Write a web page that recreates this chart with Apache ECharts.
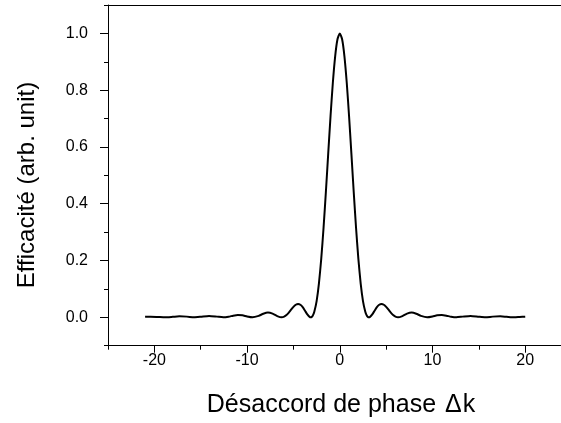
<!DOCTYPE html>
<html>
<head>
<meta charset="utf-8">
<script src="https://cdn.jsdelivr.net/npm/echarts@6/dist/echarts.min.js"></script>
<style>
html,body{margin:0;padding:0;background:#fff;}
#c{width:561px;height:423px;}
</style>
</head>
<body>
<div id="c"></div>
<script>
// Phase mismatch (x) and efficiency (y)
var deltaK = [
  -21, -20.4, -19.6, -18.85, -18, -17.3, -16.5, -15.71, -15, -14.1, -13.25, -12.57,
  -12, -11.5, -11, -10.5, -10, -9.42, -8.75, -8.25, -7.75, -7.25, -6.75, -6.28,
  -6, -5.75, -5.5, -5.25, -5, -4.75, -4.5, -4.25, -4, -3.75, -3.5, -3.25, -3.14,
  -3, -2.9, -2.75, -2.5, -2.25, -2, -1.75, -1.5, -1.25, -1, -0.75, -0.5, -0.25,
  0,
  0.25, 0.5, 0.75, 1, 1.25, 1.5, 1.75, 2, 2.25, 2.5, 2.75, 2.9, 3,
  3.14, 3.25, 3.5, 3.75, 4, 4.25, 4.5, 4.75, 5, 5.25, 5.5, 5.75, 6,
  6.28, 6.75, 7.25, 7.75, 8.25, 8.75, 9.42, 10, 10.5, 11, 11.5, 12,
  12.57, 13.25, 14.1, 15, 15.71, 16.5, 17.3, 18, 18.85, 19.4, 20
];
var efficiency = [
  0.0016, 0.0024, 0.0012, 0, 0.0017, 0.0033, 0.0024, 0, 0.0019, 0.0050, 0.0024, 0,
  0.0020, 0.0058, 0.0083, 0.0070, 0.0030, 0, 0.0051, 0.0125, 0.0165, 0.0129, 0.0044, 0,
  0.0022, 0.0078, 0.0165, 0.0268, 0.0368, 0.0443, 0.0472, 0.0443, 0.0358, 0.0232, 0.0100, 0.0011, 0,
  0.0022, 0.0068, 0.0193, 0.0573, 0.1196, 0.2067, 0.3162, 0.4422, 0.5764, 0.7081, 0.8261, 0.9194, 0.9793,
  1.0,
  0.9793, 0.9194, 0.8261, 0.7081, 0.5764, 0.4422, 0.3162, 0.2067, 0.1196, 0.0573, 0.0193, 0.0068, 0.0022,
  0, 0.0011, 0.0100, 0.0232, 0.0358, 0.0443, 0.0472, 0.0443, 0.0368, 0.0268, 0.0165, 0.0078, 0.0022,
  0, 0.0044, 0.0129, 0.0165, 0.0125, 0.0051, 0, 0.0030, 0.0070, 0.0083, 0.0058, 0.0020,
  0, 0.0024, 0.0050, 0.0019, 0, 0.0024, 0.0033, 0.0017, 0, 0.0012, 0.0021
];
var xMajorTicks = [-20, -10, 0, 10, 20];
var xMinorTicks = [-25, -15, -5, 5, 15, 25];
var yMajorTicks = [0, 0.2, 0.4, 0.6, 0.8, 1.0];
var yMinorTicks = [-0.1, 0.1, 0.3, 0.5, 0.7, 0.9, 1.1];
var xTitleMain = 'Désaccord de phase ';
var xTitleDelta = 'Δ';
var xTitleK = 'k';
var yTitle = 'Efficacité (arb. unit)';

var points = deltaK.map(function (x, i) { return [x, efficiency[i]]; });
var FONT = 'Liberation Sans, Arial, sans-serif';
var lineStyle = { color: '#000', width: 1 };

var chart = echarts.init(document.getElementById('c'), null, { renderer: 'canvas' });
chart.setOption({
  animation: false,
  backgroundColor: '#fff',
  grid: { left: 108, top: 5, right: -10.6, bottom: 77.3, containLabel: false, outerBoundsMode: 'none' },
  xAxis: [
    {
      type: 'value', min: -25, max: 25, position: 'bottom',
      axisLine: { show: true, onZero: false, lineStyle: lineStyle },
      axisTick: { show: true, inside: false, length: 7, customValues: xMajorTicks, lineStyle: lineStyle },
      axisLabel: { show: true, customValues: xMajorTicks, margin: 7, color: '#000', fontSize: 16, fontFamily: FONT },
      splitLine: { show: false }
    },
    {
      type: 'value', min: -25, max: 25, position: 'bottom',
      axisLine: { show: false, onZero: false },
      axisTick: { show: true, inside: false, length: 4, customValues: xMinorTicks, lineStyle: lineStyle },
      axisLabel: { show: false },
      splitLine: { show: false }
    },
    {
      type: 'value', min: -25, max: 25, position: 'top',
      axisLine: { show: true, onZero: false, lineStyle: lineStyle },
      axisTick: { show: false },
      axisLabel: { show: false },
      splitLine: { show: false }
    }
  ],
  yAxis: [
    {
      type: 'value', min: -0.1, max: 1.1, position: 'left',
      axisLine: { show: true, onZero: false, lineStyle: lineStyle },
      axisTick: { show: true, inside: false, length: 8, customValues: yMajorTicks, lineStyle: lineStyle },
      axisLabel: {
        show: true, customValues: yMajorTicks, margin: 20, color: '#000', fontSize: 16, fontFamily: FONT,
        formatter: function (v) { return v.toFixed(1); }
      },
      splitLine: { show: false }
    },
    {
      type: 'value', min: -0.1, max: 1.1, position: 'left',
      axisLine: { show: false, onZero: false },
      axisTick: { show: true, inside: false, length: 4, customValues: yMinorTicks, lineStyle: lineStyle },
      axisLabel: { show: false },
      splitLine: { show: false }
    }
  ],
  series: [
    {
      type: 'line', xAxisIndex: 0, yAxisIndex: 0, data: points,
      showSymbol: false, smooth: 0.2,
      lineStyle: { color: '#000', width: 2 }
    }
  ],
  graphic: [
    {
      type: 'text', x: 341, y: 405,
      style: {
        text: '{a|' + xTitleMain + '}{d|' + xTitleDelta + '}{a|' + xTitleK + '}',
        textAlign: 'center', textVerticalAlign: 'middle',
        rich: {
          a: { fontSize: 25, fontFamily: FONT, color: '#000' },
          d: { fontSize: 25, fontFamily: FONT, color: '#000', padding: [0, 1, 0, 2] }
        }
      }
    },
    {
      type: 'text', x: 27.5, y: 185, rotation: Math.PI / 2,
      style: { text: yTitle, font: '24px ' + FONT, fill: '#000', textAlign: 'center', textVerticalAlign: 'middle' }
    }
  ]
});
</script>
</body>
</html>
